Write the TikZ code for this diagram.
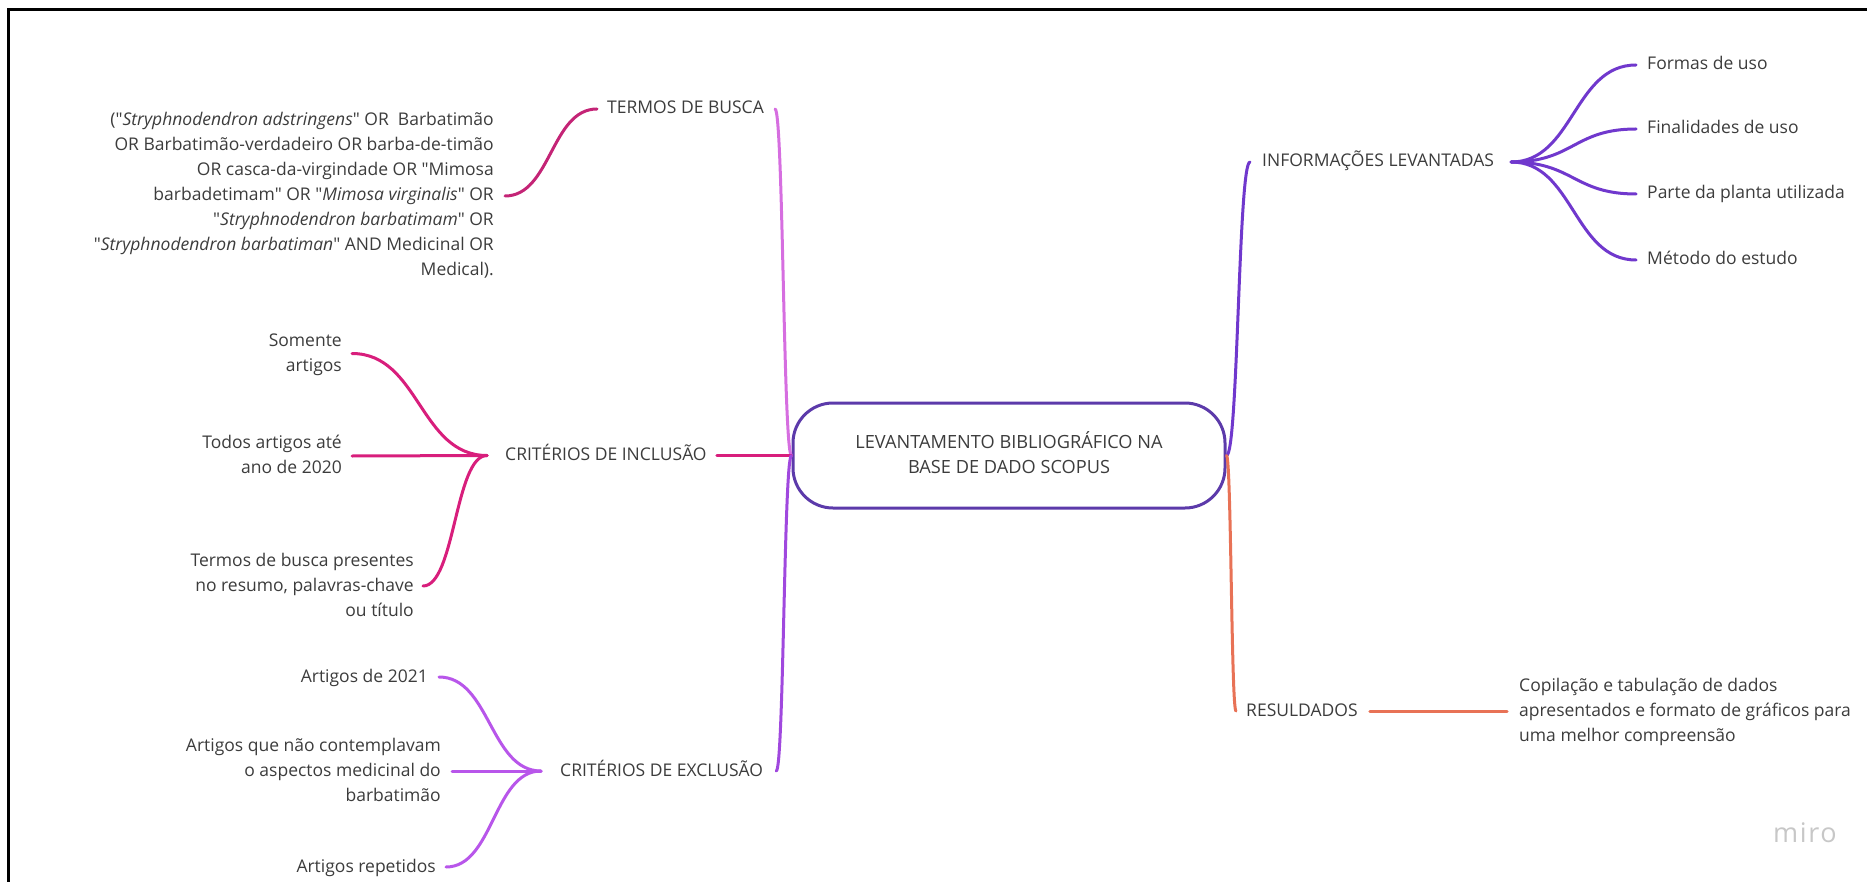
\documentclass[tikz,border=0pt]{standalone}
\usepackage{fontspec}
\setmainfont{Open Sans}[Ligatures=TeXOff]
\usetikzlibrary{calc}
\definecolor{txt}{RGB}{60,60,60}
\definecolor{rootc}{RGB}{92,58,170}
\definecolor{termc}{RGB}{214,110,224}
\definecolor{termk}{RGB}{196,36,118}
\definecolor{inclc}{RGB}{216,30,124}
\definecolor{exclm}{RGB}{160,72,222}
\definecolor{exclc}{RGB}{184,86,234}
\definecolor{infoc}{RGB}{112,56,205}
\definecolor{resc}{RGB}{232,114,86}
\tikzset{
  lbl/.style={inner sep=0pt, text=txt, font=\fontsize{17.5}{25}\selectfont},
  lblR/.style={lbl, align=right, anchor=east},
  lblL/.style={lbl, align=left, anchor=west},
  link/.style={line width=3pt, line cap=round},
  mm/.style={to path={let \p1=(\tikztostart), \p2=(\tikztotarget) in .. controls ({(\x1+\x2)/2},\y1) and ({(\x1+\x2)/2},\y2) .. (\tikztotarget)}},
  rootbox/.style={draw=rootc, line width=3pt, rounded corners=40pt, minimum width=432pt, minimum height=105pt, align=center, text=txt, font=\fontsize{18.2}{25}\selectfont, inner sep=0pt}
}
\begin{document}
\begin{tikzpicture}[x=1pt,y=-1pt]
\useasboundingbox (0,0) rectangle (1867,882);
\draw[line width=3pt] (8,882) -- (8,10) -- (1867,10);

% root
\node[rootbox] (root) at (1009,455.5) {\strut LEVANTAMENTO BIBLIOGRÁFICO NA\\\strut BASE DE DADO SCOPUS};

% left branch labels
\node[lblL] (termos) at (607,109) {\strut TERMOS DE BUSCA};
\node[lblR] (busca) at (494,196) {\strut("\textit{Stryphnodendron adstringens}" OR~~Barbatimão\\
\strut OR Barbatimão-verdadeiro OR barba-de-timão\\
\strut OR casca-da-virgindade OR "Mimosa\\
\strut barbadetimam" OR "\textit{Mimosa virginalis}" OR\\
\strut"\textit{Stryphnodendron barbatimam}" OR\\
\strut"\textit{Stryphnodendron barbatiman}" AND Medicinal OR\\
\strut Medical).};

\node[lblL] (incl) at (505,455.5) {\strut CRITÉRIOS DE INCLUSÃO};
\node[lblR] (som) at (342,353.5) {\strut Somente\\\strut artigos};
\node[lblR] (todos) at (342,456) {\strut Todos artigos até\\\strut ano de 2020};
\node[lblR] (tbp) at (414,586) {\strut Termos de busca presentes\\\strut no resumo, palavras-chave\\\strut ou título};

\node[lblL] (excl) at (560,771) {\strut CRITÉRIOS DE EXCLUSÃO};
\node[lblR] (a21) at (428,677) {\strut Artigos de 2021};
\node[lblR] (aque) at (441,771) {\strut Artigos que não contemplavam\\\strut o aspectos medicinal do\\\strut barbatimão};
\node[lblR] (arep) at (436,867) {\strut Artigos repetidos};

% right branch labels
\node[lblL] (info) at (1262,162) {\strut INFORMAÇÕES LEVANTADAS};
\node[lblL] (formas) at (1647,65) {\strut Formas de uso};
\node[lblL] (final) at (1647,129) {\strut Finalidades de uso};
\node[lblL] (parte) at (1647,194) {\strut Parte da planta utilizada};
\node[lblL] (metodo) at (1647,260) {\strut Método do estudo};

\node[lblL] (res) at (1246,711) {\strut RESULDADOS};
\node[lblL] (cop) at (1519,711) {\strut Copilação e tabulação de dados\\\strut apresentados e formato de gráficos para\\\strut uma melhor compreensão};

\node[text=black!22, font=\fontsize{27}{27}\selectfont\addfontfeatures{LetterSpace=6}] (miro) at (1805,833) {miro};

% connector end points
\coordinate (tR) at ($(termos.east)+(11,0)$);
\coordinate (tL) at ($(termos.west)+(-10,0)$);
\coordinate (bR) at ($(busca.east)+(11,0)$);
\coordinate (iR) at ($(incl.east)+(10,0)$);
\coordinate (iH) at ($(incl.west)+(-18,0)$);
\coordinate (sR) at ($(som.east)+(10,0)$);
\coordinate (toR) at ($(todos.east)+(10,0)$);
\coordinate (tbR) at ($(tbp.east)+(9,0)$);
\coordinate (eR) at ($(excl.east)+(13,0)$);
\coordinate (eH) at ($(excl.west)+(-19,0)$);
\coordinate (a21R) at ($(a21.east)+(11,0)$);
\coordinate (aqR) at ($(aque.east)+(11,0)$);
\coordinate (arR) at ($(arep.east)+(10,0)$);
\coordinate (nL) at ($(info.west)+(-12,0)$);
\coordinate (nH) at ($(info.east)+(17,0)$);
\coordinate (fL) at ($(formas.west)+(-11,0)$);
\coordinate (fiL) at ($(final.west)+(-11,0)$);
\coordinate (pL) at ($(parte.west)+(-11,0)$);
\coordinate (mL) at ($(metodo.west)+(-11,0)$);
\coordinate (rL) at ($(res.west)+(-10,0)$);
\coordinate (rR) at ($(res.east)+(12,0)$);
\coordinate (cL) at ($(cop.west)+(-12,0)$);

% connectors
\draw[link,termc] (root.west) to[mm] (tR);
\draw[link,termk] (tL) to[mm] (bR);
\draw[link,inclc] (root.west) to[mm] (iR);
\draw[link,inclc] (iH) to[mm] (sR);
\draw[link,inclc] (iH) to[mm] (toR);
\draw[link,inclc] (iH) to[mm] (tbR);
\draw[link,exclm] (root.west) to[mm] (eR);
\draw[link,exclc] (eH) to[mm] (a21R);
\draw[link,exclc] (eH) to[mm] (aqR);
\draw[link,exclc] (eH) to[mm] (arR);
\draw[link,infoc] (root.east) to[mm] (nL);
\draw[link,infoc] (nH) to[mm] (fL);
\draw[link,infoc] (nH) to[mm] (fiL);
\draw[link,infoc] (nH) to[mm] (pL);
\draw[link,infoc] (nH) to[mm] (mL);
\draw[link,resc] (root.east) to[mm] (rL);
\draw[link,resc] (rR) -- (cL);
\end{tikzpicture}
\end{document}
